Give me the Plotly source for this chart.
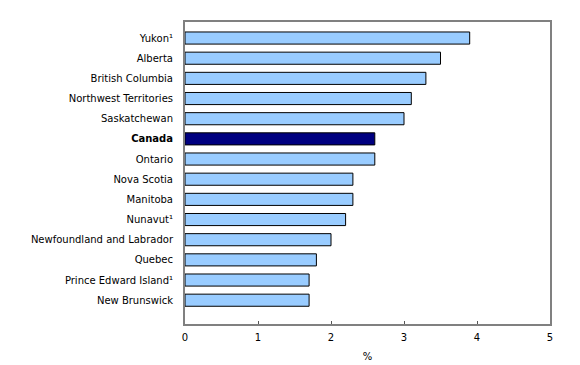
import plotly.graph_objects as go

categories = ["Yukon¹", "Alberta", "British Columbia", "Northwest Territories", "Saskatchewan",
              "Canada", "Ontario", "Nova Scotia", "Manitoba", "Nunavut¹",
              "Newfoundland and Labrador", "Quebec", "Prince Edward Island¹", "New Brunswick"]
values = [3.9, 3.5, 3.3, 3.1, 3.0, 2.6, 2.6, 2.3, 2.3, 2.2, 2.0, 1.8, 1.7, 1.7]
x_ticks = [0, 1, 2, 3, 4, 5]
x_title = "%"

highlight = "Canada"
labels = [f"<b>{c}</b>" if c == highlight else c for c in categories]
colors = ["#000080" if c == highlight else "#99CCFF" for c in categories]

fig = go.Figure(go.Bar(
    x=values, y=labels, orientation="h",
    marker=dict(color=colors, line=dict(color="#000000", width=1)),
    width=0.6,
))

n = len(categories)
fig.update_layout(
    width=580, height=365,
    margin=dict(l=177, r=38, t=12, b=49, pad=0),
    paper_bgcolor="white", plot_bgcolor="white",
    font=dict(family="DejaVu Sans, Verdana, sans-serif", size=10, color="#000000"),
    showlegend=False,
    bargap=0.4,
)
fig.update_xaxes(
    range=[0, 5], tickvals=x_ticks, ticktext=[str(t) for t in x_ticks],
    showgrid=False, zeroline=False,
    showline=True, linecolor="#808080", linewidth=2, mirror=True,
    ticks="inside", ticklen=3, tickcolor="#555555", tickwidth=1,
    ticklabelstandoff=3,
    title=dict(text=x_title, standoff=11, font=dict(size=10)),
)
fig.update_yaxes(
    type="category", categoryorder="array", categoryarray=labels,
    range=[n - 1 + 1.18, -0.795],
    showgrid=False, zeroline=False,
    showline=True, linecolor="#808080", linewidth=2, mirror=True,
    ticks="", ticklabelstandoff=8,
)

fig.write_html("out.html")
